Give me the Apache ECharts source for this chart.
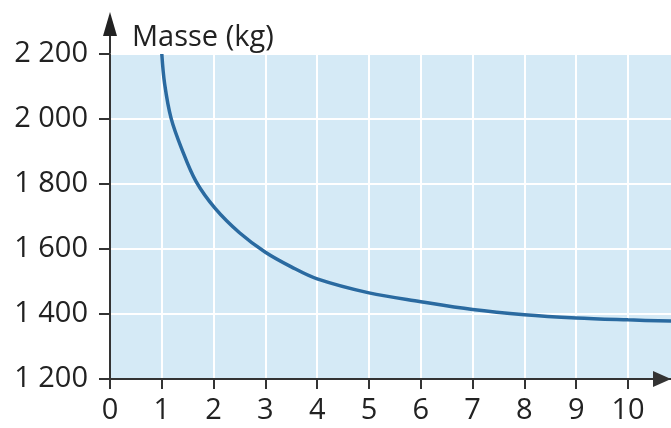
<!DOCTYPE html>
<html lang="de">
<head>
    <meta charset="UTF-8">
    <title>Masse</title>
    <script src="https://cdn.jsdelivr.net/npm/echarts@6/dist/echarts.min.js"></script>
    <style>
        html, body { margin: 0; padding: 0; background: #fff; }
    </style>
</head>
<body>
<div id="chart" style="width: 671px;height:428px;"></div>
<script>
    // Werte
    let xWerte = [1, 1.055, 1.18, 1.39, 1.66, 2.03, 2.5, 3, 3.5, 4, 5, 6, 7, 8, 9, 10, 10.85];
    let masse = [2200, 2108, 2002, 1906, 1808, 1725, 1650, 1590, 1545, 1508, 1465, 1438, 1414, 1398, 1388, 1382, 1378];
    let xTicks = [0, 1, 2, 3, 4, 5, 6, 7, 8, 9, 10];

    let punkte = [];
    for (let i = 0; i < xWerte.length; i++) {
        punkte.push([xWerte[i], masse[i]]);
    }

    let chart = echarts.init(document.getElementById('chart'));

    let schrift = {
        fontFamily: 'Open Sans',
        fontSize: 29,
        color: '#222'
    };

    option = {
        animation: false,
        grid: {
            left: 110,
            right: 0,
            top: 54,
            bottom: 49,
            show: true,
            backgroundColor: '#d5eaf6',
            borderWidth: 0
        },
        xAxis: {
            type: 'value',
            min: 0,
            max: 10.83,
            interval: 1,
            axisLine: {
                show: true,
                symbol: ['none', 'triangle'],
                symbolSize: [16, 18],
                symbolOffset: [0, -9],
                lineStyle: {color: '#333', width: 2}
            },
            axisTick: {
                show: true,
                customValues: xTicks,
                length: 10,
                lineStyle: {color: '#333', width: 2}
            },
            axisLabel: Object.assign({
                customValues: xTicks,
                margin: 17
            }, schrift),
            splitLine: {
                show: true,
                lineStyle: {color: '#ffffff', width: 2}
            }
        },
        yAxis: {
            type: 'value',
            min: 1200,
            max: 2200,
            interval: 200,
            name: 'Masse (kg)',
            nameLocation: 'end',
            nameGap: 2,
            nameTextStyle: Object.assign({
                align: 'left',
                padding: [0, 0, 0, 22]
            }, schrift),
            axisLine: {
                show: true,
                lineStyle: {color: '#333', width: 2}
            },
            axisTick: {
                show: true,
                length: 11,
                lineStyle: {color: '#333', width: 2}
            },
            axisLabel: Object.assign({
                margin: 22,
                formatter: function (v) {
                    return String(v).replace(/\B(?=(\d{3})+(?!\d))/g, ' ');
                }
            }, schrift),
            splitLine: {
                show: true,
                lineStyle: {color: '#ffffff', width: 2}
            }
        },
        // Pfeil der y-Achse oberhalb des Diagramms
        graphic: [
            {
                type: 'line',
                shape: {x1: 110, y1: 54, x2: 110, y2: 34},
                style: {stroke: '#333', lineWidth: 2}
            },
            {
                type: 'polygon',
                shape: {points: [[110, 12], [103, 36], [117, 36]]},
                style: {fill: '#222'}
            }
        ],
        series: [{
            type: 'line',
            data: punkte,
            smooth: 0.35,
            showSymbol: false,
            lineStyle: {color: '#2a6aa0', width: 3.5},
            z: 5
        }]
    };

    chart.setOption(option);
</script>
</body>
</html>
